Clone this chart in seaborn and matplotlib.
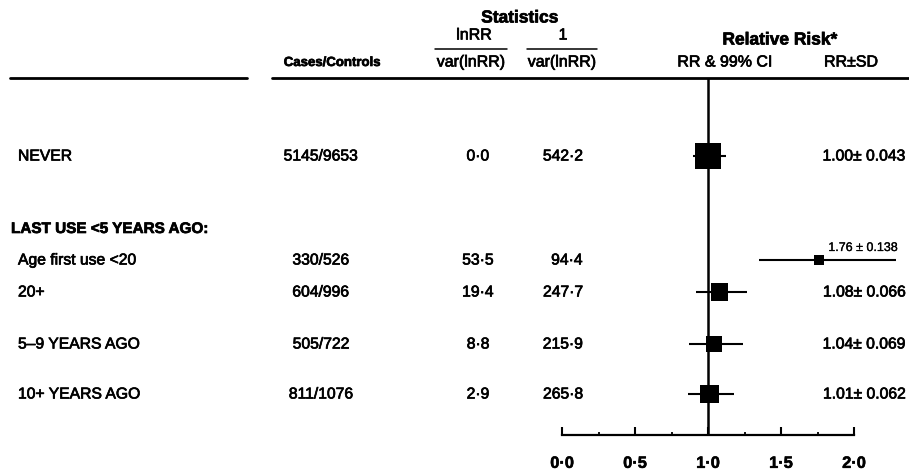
import numpy as np
import pandas as pd
import matplotlib.pyplot as plt
import matplotlib.patheffects as pe
from matplotlib.lines import Line2D
from matplotlib.ticker import FuncFormatter, MultipleLocator
import seaborn as sns

row_labels = ['NEVER', 'Age first use <20', '20+', '5\u20139 YEARS AGO', '10+ YEARS AGO']
group_label = 'LAST USE <5 YEARS AGO:'
cases_controls = ['5145/9653', '330/526', '604/996', '505/722', '811/1076']
lnrr_over_var = [0.0, 53.5, 19.4, 8.8, 2.9]
inv_var = [542.2, 94.4, 247.7, 215.9, 265.8]
rr = [1.00, 1.76, 1.08, 1.04, 1.01]
rr_sd = [0.043, 0.138, 0.066, 0.069, 0.062]
ci_low = [0.90, 1.35, 0.92, 0.87, 0.86]
ci_high = [1.12, 2.29, 1.27, 1.24, 1.18]
x_ticks = [0.0, 0.5, 1.0, 1.5, 2.0]

# layout (pixels of the 909x474 picture)
W, H = 909, 474
row_y = [156, 260, 292, 344, 394]
group_y = 229

sns.set_theme(style='white')
plt.rcParams['font.family'] = ['Liberation Sans', 'DejaVu Sans']

fig = plt.figure(figsize=(W / 100, H / 100), dpi=100)

# scanned print looks a bit heavier than plain regular weight
heavy = [pe.withStroke(linewidth=0.5, foreground='black')]


def fx(px):
    return px / W


def fy(py):
    return 1 - py / H


def dot(v):
    return f'{v:.1f}'.replace('.', '\u00b7')


def put(x, y, s, size=11.3, ha='center', effects=heavy, **kw):
    return fig.text(fx(x), fy(y), s, fontsize=size, ha=ha, va='center',
                    color='black', path_effects=effects, **kw)


# forest plot axes: x from RR 0 to 2, y in picture pixels
top, bottom = 78, 435
ax = fig.add_axes([fx(562), fy(bottom), fx(854) - fx(562), (bottom - top) / H])
ax.set_xlim(0, 2)
ax.set_ylim(bottom, top)

df = pd.DataFrame({'rr': rr, 'y': row_y, 'w': inv_var, 'lo': ci_low, 'hi': ci_high})
side_px = 26 * np.sqrt(df['w'] / df['w'].max())
ax.axvline(1.0, color='black', lw=1.8, zorder=2)
ax.hlines(df['y'], df['lo'], df['hi'], color='black', lw=1.5, clip_on=False, zorder=3)
sns.scatterplot(data=df, x='rr', y='y', marker='s', s=(side_px * 0.72) ** 2,
                color='black', edgecolor='none', legend=False, ax=ax,
                clip_on=False, zorder=4)

for s in ['top', 'left', 'right']:
    ax.spines[s].set_visible(False)
ax.spines['bottom'].set_linewidth(1.6)
ax.spines['bottom'].set_color('black')
ax.set_xticks(x_ticks)
ax.xaxis.set_minor_locator(MultipleLocator(0.25))
ax.xaxis.set_major_formatter(FuncFormatter(lambda v, p: dot(v)))
ax.tick_params(axis='x', which='major', bottom=True, direction='in', length=6, width=1.5,
               pad=15, labelsize=11.8, colors='black')
ax.tick_params(axis='x', which='minor', bottom=True, direction='in', length=2.5, width=1.3,
               colors='black')
for lab in ax.get_xticklabels():
    lab.set_fontweight('bold')
    lab.set_path_effects([pe.withStroke(linewidth=0.4, foreground='black')])
ax.set_yticks([])
ax.set_xlabel('')
ax.set_ylabel('')
ax.patch.set_alpha(0)

# header rules
for x0, x1, yy, lw in [(10, 247, 78, 2.0), (272, 909, 78, 2.0),
                       (435, 507, 49, 1.1), (527, 597, 49, 1.1)]:
    fig.add_artist(Line2D([fx(x0), fx(x1)], [fy(yy), fy(yy)], color='black', lw=lw))

# header texts
put(520, 18, 'Statistics', 12.5, fontweight='bold')
put(474, 35, 'lnRR', 11.5)
put(563, 35, '1', 11.5)
put(471, 62, 'var(lnRR)', 11.5)
put(562, 62, 'var(lnRR)', 11.5)
put(332, 63, 'Cases/Controls', 9.5, fontweight='bold')
put(780, 40, 'Relative Risk*', 12.5, fontweight='bold')
put(725, 62, 'RR & 99% CI', 11.5)
put(851, 62, 'RR\u00b1SD', 11.5)

# table rows
put(11, group_y, group_label, 11, ha='left', fontweight='bold')
for i, y in enumerate(row_y):
    put(18, y, row_labels[i], ha='left')
    put(321, y, cases_controls[i])
    put(478, y, dot(lnrr_over_var[i]))
    put(583, y, dot(inv_var[i]), ha='right')
    if i == 1:
        put(863, y - 12, f'{rr[i]:.2f} \u00b1 {rr_sd[i]:.3f}', 9,
            effects=[pe.withStroke(linewidth=0.2, foreground='black')])
    else:
        put(906, y, f'{rr[i]:.2f}\u00b1 {rr_sd[i]:.3f}', ha='right')

fig.savefig('out.png', dpi=100)
